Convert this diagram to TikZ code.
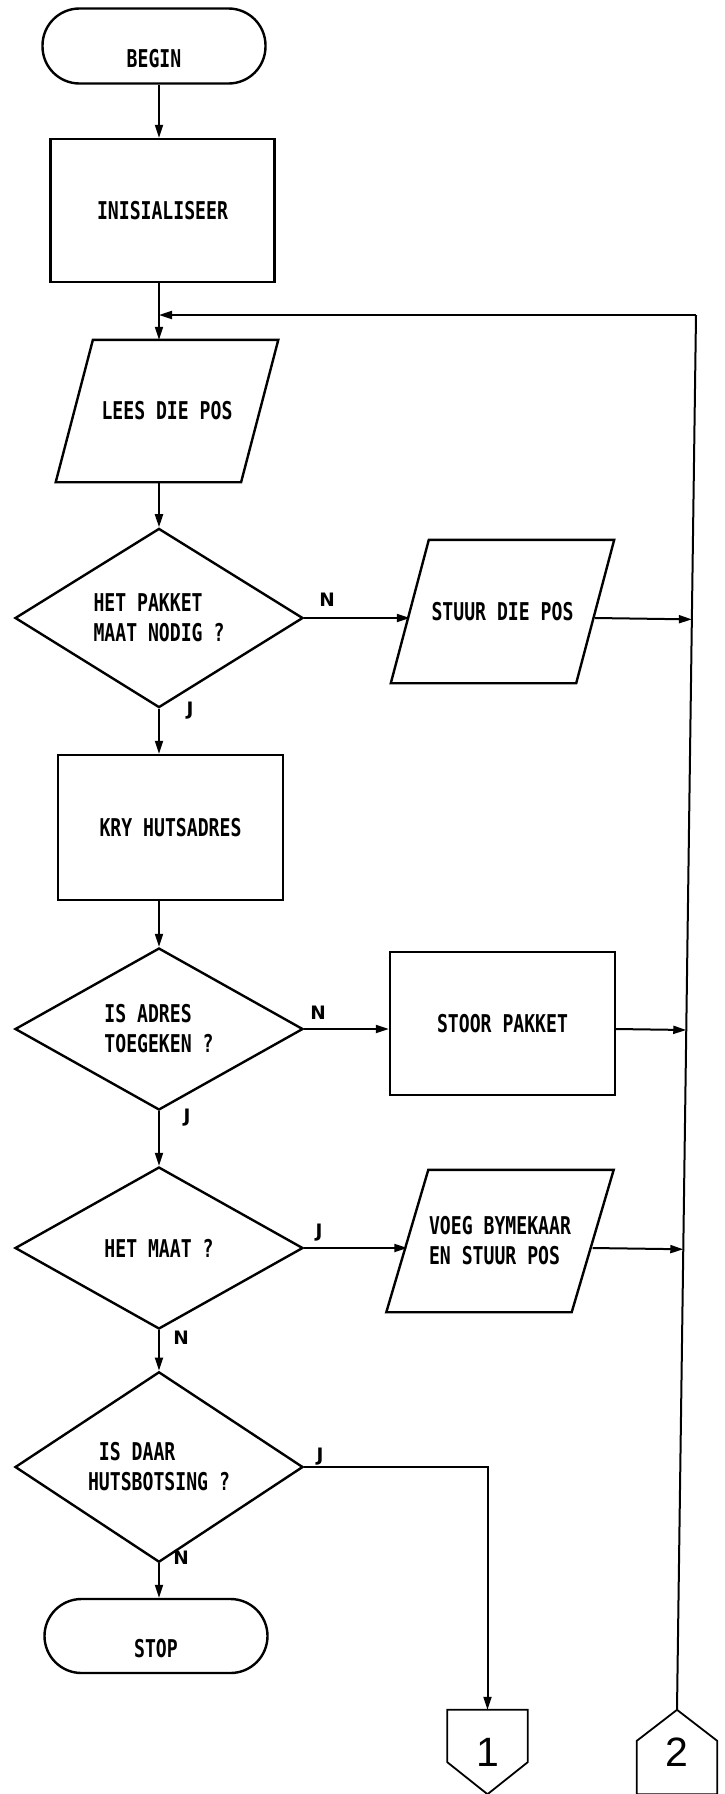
\documentclass[tikz,border=0pt]{standalone}
\usepackage{fontspec}
\usetikzlibrary{shapes.geometric,arrows.meta,calc}
\newfontfamily\plotfont{DejaVu Sans Mono}[FakeStretch=0.74]
\newfontfamily\markfont{DejaVu Sans}
\newfontfamily\numfont{Liberation Sans}
\newcommand\flowtext{\plotfont\bfseries\fontsize{24.5}{30}\selectfont}
\newcommand\branchtext{\markfont\bfseries\fontsize{18.5}{18.5}\selectfont}
\newcommand\digittext{\numfont\fontsize{41}{41}\selectfont}
% outline of an input/output box: body node #1, half the horizontal slant #2
\newcommand\iooutline[2]{%
  \draw[line width=2.4pt, line join=miter]
    ([xshift=-#2pt]#1.south west) -- ([xshift=-#2pt]#1.south east)
    -- ([xshift=#2pt]#1.north east) -- ([xshift=#2pt]#1.north west) -- cycle;}
\begin{document}
\begin{tikzpicture}[x=1pt,y=-1pt,
  every node/.style={font=\flowtext},
  shapeline/.style={draw, line width=2.4pt, inner sep=0pt},
  terminal/.style={shapeline, rectangle, rounded corners=37pt,
    minimum width=223pt, minimum height=75pt, text height=42pt, text depth=0pt},
  process/.style={shapeline, rectangle, minimum width=224pt, minimum height=143pt},
  iobox/.style={rectangle, inner sep=0pt, minimum width=185pt,
    minimum height=142pt, align=left},
  decision/.style={shapeline, diamond, minimum width=288pt,
    minimum height=162pt, align=left},
  branch/.style={font=\branchtext, inner sep=0pt},
  offpage/.style={minimum width=80pt, minimum height=84pt, inner sep=0pt,
    font=\digittext},
  link/.style={line width=2pt},
  arr/.style={line width=2pt, -{Triangle[length=13pt,width=8pt]}}]

\useasboundingbox (0,0) rectangle (724,1794);

% main column
\coordinate (col) at (159,0);

\node[terminal] (begin) at (154,46) {BEGIN};
\node[process] (inis) at (162.5,210.5) {INISIALISEER};
\node[iobox] (lees) at (167,411) {LEES DIE POS};
\iooutline{lees}{18.6}
\node[decision] (d1) at (159,618) {HET PAKKET\\MAAT NODIG ?};
\node[iobox, minimum height=143pt] (stuur) at (502.5,611.5) {STUUR DIE POS};
\iooutline{stuur}{19}
\node[process, minimum width=225pt, minimum height=145pt] (kry) at (170.5,827.5) {KRY HUTSADRES};
\node[decision] (d2) at (159,1029) {IS ADRES\\TOEGEKEN ?};
\node[process, minimum width=225pt] (stoor) at (502.5,1023.5) {STOOR PAKKET};
\node[decision] (d3) at (159,1248) {HET MAAT ?};
\node[iobox] (voeg) at (500,1241) {VOEG BYMEKAAR\\EN STUUR POS};
\iooutline{voeg}{21}
\node[decision] (d4) at (159,1467) {\hphantom{X}IS DAAR\\HUTSBOTSING ?};
\node[terminal, minimum height=74pt] (stop) at (156,1636) {STOP};

% off-page connectors
\node[offpage] (c1) at (487.5,1752) {1};
\node[offpage] (c2) at (677,1752) {2};
\draw[line width=1.8pt] (c1.north west) -- (c1.north east)
  -- ([yshift=32pt]c1.south east) -- (c1.south)
  -- ([yshift=32pt]c1.south west) -- cycle;
\draw[line width=1.8pt] (c2.north) -- ([yshift=-31pt]c2.north east)
  -- (c2.south east) -- (c2.south west)
  -- ([yshift=-31pt]c2.north west) -- cycle;

% branch labels
\node[branch] (n1) at (327,600) {N};
\node[branch] (j1) at (190,711) {J};
\node[branch] (n2) at (318,1013) {N};
\node[branch] (j2) at (187,1118) {J};
\node[branch] (j3) at (319,1233) {J};
\node[branch] (n3) at (181,1338) {N};
\node[branch] (j4) at (320,1457) {J};
\node[branch] (n4) at (181,1558) {N};

% main flow
\draw[arr] (begin.south -| col) -- (inis.north -| col);
\draw[arr] (inis.south -| col) -- (lees.north -| col);
\draw[arr] (lees.south -| col) -- (d1.north);
\draw[arr] (d1.south) -- (kry.north -| col);
\draw[arr] (kry.south -| col) -- (d2.north);
\draw[arr] (d2.south) -- (d3.north);
\draw[arr] (d3.south) -- (d4.north);
\draw[arr] (d4.south) -- (stop.north -| col);

% side branches
\draw[arr] (d1.east) -- (d1.east -| stuur.west);
\draw[arr] (d2.east) -- (d2.east -| stoor.west);
\draw[arr] (d3.east) -- (d3.east -| voeg.west);
\draw[arr] (d4.east) -| (c1.north);

% return line to the reading step
\coordinate (rtop) at (696,315);
\draw[link] (c2.north) -- (rtop);
\draw[arr] (rtop) -- (rtop -| col);

\coordinate (o1) at (stuur.east |- d1.east);
\coordinate (o2) at (stoor.east |- d2.east);
\coordinate (o3) at (voeg.east |- d3.east);
\draw[arr] (o1) -- ($(c2.north)!(o1)!(rtop)$);
\draw[arr] (o2) -- ($(c2.north)!(o2)!(rtop)$);
\draw[arr] (o3) -- ($(c2.north)!(o3)!(rtop)$);
\end{tikzpicture}
\end{document}
